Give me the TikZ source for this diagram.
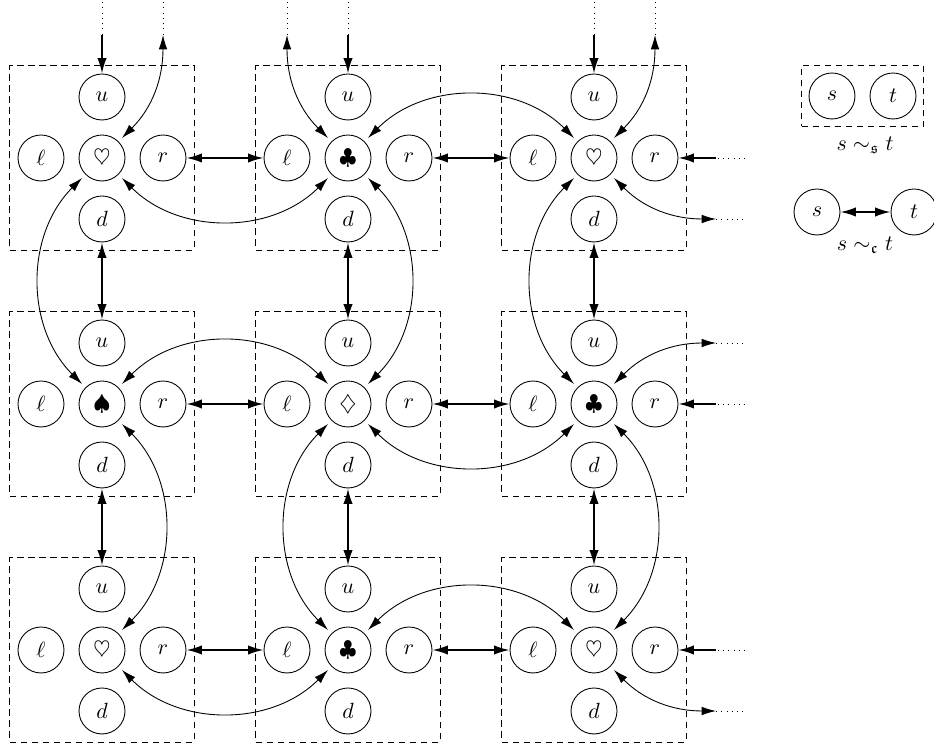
\documentclass[tikz,border=0pt]{standalone}
\usepackage{amssymb}
\usetikzlibrary{arrows.meta,fit}
\tikzset{
  cell/.style={circle, draw, line width=0.4pt, minimum size=20.9pt, inner sep=0pt},
  ctr/.style={cell, outer sep=2.4pt},
  cellbox/.style={draw, line width=0.45pt, dash pattern=on 3pt off 2pt, inner sep=3.5pt},
  link/.style={line width=0.8pt, {Latex[length=7pt,width=4.2pt]}-{Latex[length=7pt,width=4.2pt]}},
  inlink/.style={line width=0.8pt, -{Latex[length=7pt,width=4.2pt]}},
  curve/.style={line width=0.4pt, {Latex[length=6.5pt,width=3.9pt]}-{Latex[length=6.5pt,width=3.9pt]}},
  tail/.style={line width=0.4pt, dotted},
  lab/.style={inner sep=0pt}
}
\newcommand{\mkcell}[4]{%
  \node[ctr]  (c#1) at (#2,#3) {$#4$};
  \node[cell] (u#1) at (#2,#3-61) {$u$};
  \node[cell] (d#1) at (#2,#3+61) {$d$};
  \node[cell] (l#1) at (#2-61,#3) {$\ell$};
  \node[cell] (r#1) at (#2+61,#3) {$r$};
  \node[cellbox, fit=(u#1)(d#1)(l#1)(r#1)] (b#1) {};
}
\begin{document}
\begin{tikzpicture}[x=0.4545pt, y=-0.4545pt]
\useasboundingbox (0,0) rectangle (934,747);
% cells
\mkcell{11}{102}{158}{\heartsuit}
\mkcell{12}{348}{158}{\clubsuit}
\mkcell{13}{594}{158}{\heartsuit}
\mkcell{21}{102}{404}{\spadesuit}
\mkcell{22}{348}{404}{\diamondsuit}
\mkcell{23}{594}{404}{\clubsuit}
\mkcell{31}{102}{650}{\heartsuit}
\mkcell{32}{348}{650}{\clubsuit}
\mkcell{33}{594}{650}{\heartsuit}
% straight links
\draw[link] (r11) -- (l12);
\draw[link] (r12) -- (l13);
\draw[link] (r21) -- (l22);
\draw[link] (r22) -- (l23);
\draw[link] (r31) -- (l32);
\draw[link] (r32) -- (l33);
\draw[link] (d11) -- (u21);
\draw[link] (d21) -- (u31);
\draw[link] (d12) -- (u22);
\draw[link] (d22) -- (u32);
\draw[link] (d13) -- (u23);
\draw[link] (d23) -- (u33);
% boundary coordinates
\coordinate (ta1) at (102,2);  \coordinate (tb1) at (102,35);
\coordinate (ta2) at (348,2);  \coordinate (tb2) at (348,35);
\coordinate (ta3) at (594,2);  \coordinate (tb3) at (594,35);
\coordinate (ra1) at (745,158); \coordinate (rb1) at (716,158);
\coordinate (ra2) at (745,404); \coordinate (rb2) at (716,404);
\coordinate (ra3) at (745,650); \coordinate (rb3) at (716,650);
\coordinate (qa1) at (163,2);  \coordinate (qb1) at (163,35);
\coordinate (qa2) at (287,2);  \coordinate (qb2) at (287,35);
\coordinate (qa3) at (655,2);  \coordinate (qb3) at (655,35);
\coordinate (pa1) at (745,219); \coordinate (pb1) at (716,219);
\coordinate (pa2) at (745,343); \coordinate (pb2) at (716,343);
\coordinate (pa3) at (745,711); \coordinate (pb3) at (716,711);
% boundary straight arrows
\draw[tail] (ta1) -- (tb1); \draw[inlink] (tb1) -- (u11);
\draw[tail] (ta2) -- (tb2); \draw[inlink] (tb2) -- (u12);
\draw[tail] (ta3) -- (tb3); \draw[inlink] (tb3) -- (u13);
\draw[tail] (ra1) -- (rb1); \draw[inlink] (rb1) -- (r13);
\draw[tail] (ra2) -- (rb2); \draw[inlink] (rb2) -- (r23);
\draw[tail] (ra3) -- (rb3); \draw[inlink] (rb3) -- (r33);
% boundary curves
\draw[tail] (qa1) -- (qb1); \draw[curve] (c11) to[out=45,in=-90] (qb1);
\draw[tail] (qa2) -- (qb2); \draw[curve] (c12) to[out=135,in=-90] (qb2);
\draw[tail] (qa3) -- (qb3); \draw[curve] (c13) to[out=45,in=-90] (qb3);
\draw[tail] (pb1) -- (pa1); \draw[curve] (c13) to[out=-45,in=180] (pb1);
\draw[tail] (pb2) -- (pa2); \draw[curve] (c23) to[out=45,in=180] (pb2);
\draw[tail] (pb3) -- (pa3); \draw[curve] (c33) to[out=-45,in=180] (pb3);
% inner curves
\draw[curve] (c11) to[out=-45,in=-135] (c12);
\draw[curve] (c11) to[out=-135,in=135] (c21);
\draw[curve] (c12) to[out=45,in=135] (c13);
\draw[curve] (c12) to[out=-45,in=45] (c22);
\draw[curve] (c13) to[out=-135,in=135] (c23);
\draw[curve] (c21) to[out=45,in=135] (c22);
\draw[curve] (c21) to[out=-45,in=45] (c31);
\draw[curve] (c22) to[out=-45,in=-135] (c23);
\draw[curve] (c22) to[out=-135,in=135] (c32);
\draw[curve] (c23) to[out=-45,in=45] (c33);
\draw[curve] (c31) to[out=-45,in=-135] (c32);
\draw[curve] (c32) to[out=45,in=135] (c33);
% legend
\node[cell] (ls1) at (832,96) {$s$};
\node[cell] (lt1) at (893,96) {$t$};
\node[cellbox, inner sep=3.2pt, fit=(ls1)(lt1)] (lb1) {};
\node[lab] (lab1) at (865,145) {$s \sim_{\mathfrak{s}} t$};
\node[cell] (ls2) at (817,212) {$s$};
\node[cell] (lt2) at (914,212) {$t$};
\draw[link] (ls2) -- (lt2);
\node[lab] (lab2) at (865,245) {$s \sim_{\mathfrak{c}} t$};
\end{tikzpicture}
\end{document}
